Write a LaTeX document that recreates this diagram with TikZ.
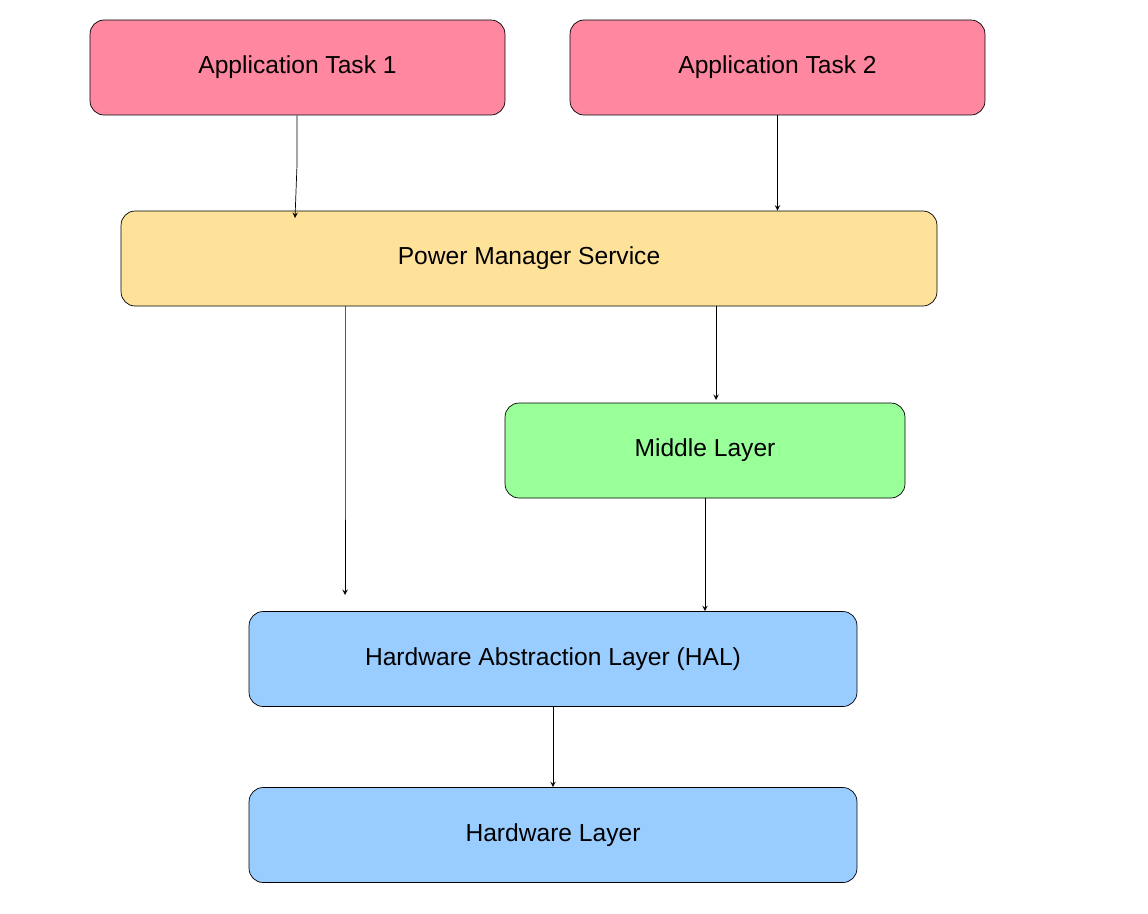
\documentclass[tikz,border=0pt]{standalone}
\usepackage{fontspec}
\setmainfont{Liberation Sans}
\usetikzlibrary{calc}

\tikzset{
  layer/.style={draw, rounded corners=8pt, minimum height=1.9cm, font=\fontsize{14}{16}\selectfont, inner sep=0pt},
  app/.style={layer, fill=appred, minimum width=8.3cm},
  flow/.style={->, >=stealth}
}
\definecolor{appred}{HTML}{FF88A0}
\definecolor{pmsyellow}{HTML}{FFE299}
\definecolor{midgreen}{HTML}{99FF99}
\definecolor{halblue}{HTML}{99CCFF}

\begin{document}
\begin{tikzpicture}[x=0.02cm, y=-0.02cm]
  \useasboundingbox (0,0) rectangle (1148,913);

  \node[app] (task1) at (297.5,67.5) {Application Task 1};
  \node[app] (task2) at (777.5,67.5) {Application Task 2};
  \node[layer, fill=pmsyellow, minimum width=16.32cm] (pms) at (529,258.5) {Power Manager Service};
  \node[layer, fill=midgreen, minimum width=8cm] (middle) at (705,450.5) {Middle Layer};
  \node[layer, fill=halblue, minimum width=12.16cm] (hal) at (553,659) {Hardware Abstraction Layer (HAL)};
  \node[layer, fill=halblue, minimum width=12.16cm] (hw) at (553,835) {Hardware Layer};

  % free ends of the connectors
  \coordinate (pmsin1) at (295,218);
  \coordinate (pmsout1) at (345,306);
  \coordinate (pmsout2) at (716,306);
  \coordinate (halin1) at (345,595);

  \draw[flow] (task1.south -| 297,0) -- (297,165) -- (pmsin1);
  \draw[flow] (task2) -- (pms.north -| task2);
  \draw[flow] (pmsout1) -- (345,450) -- (halin1);
  \draw[flow] (pmsout2) -- (716,400);
  \draw[flow] (middle) -- (hal.north -| middle);
  \draw[flow] (hal) -- (hw);
\end{tikzpicture}
\end{document}
